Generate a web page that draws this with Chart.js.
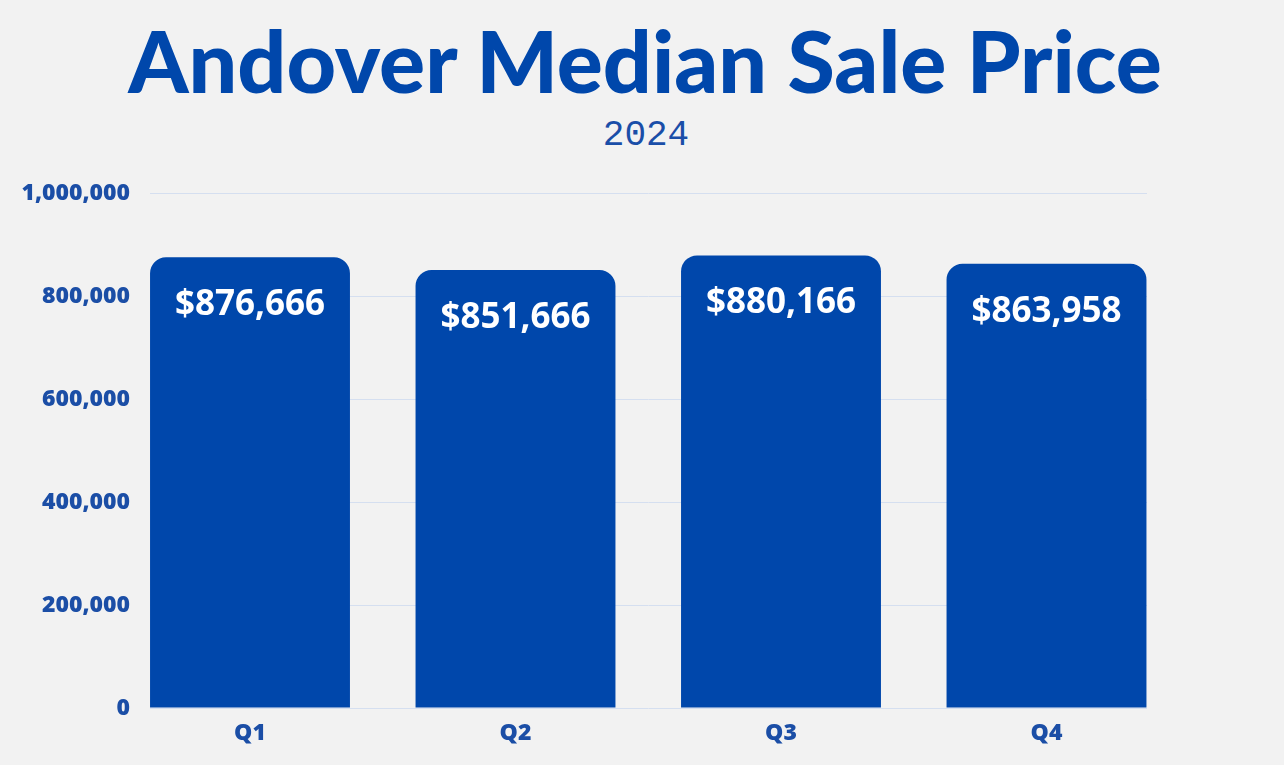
<!DOCTYPE html>
<html>
<head>
<meta charset="utf-8">
<script src="https://cdn.jsdelivr.net/npm/chart.js@4"></script>
<style>
  html, body { margin:0; padding:0; width:1284px; height:765px; background:#f2f2f2; overflow:hidden; }
  #title { position:absolute; left:0; width:1290px; top:5px; text-align:center; font-family:Lato, sans-serif; font-weight:900; font-size:86px; color:#0047ab; line-height:110px; letter-spacing:0px; white-space:nowrap; }
  #sub { position:absolute; left:0; width:1292px; top:114px; text-align:center; font-family:"Liberation Mono", monospace; font-size:36px; color:#1a4ea8; line-height:44px; }
  #wrap { position:absolute; left:0; top:160px; width:1284px; height:605px; }
</style>
</head>
<body>
<div id="title">Andover Median Sale Price</div>
<div id="sub">2024</div>
<div id="wrap"><canvas id="c" width="1284" height="605"></canvas></div>
<script>
const categories = ["Q1", "Q2", "Q3", "Q4"];
const values = [876666, 851666, 880166, 863958];
const yTicks = [0, 200000, 400000, 600000, 800000, 1000000];

const blue = "#0047ab";
const labelBlue = "#1b4ea6";

const valueLabels = {
  id: "valueLabels",
  afterDatasetsDraw(chart) {
    const ctx = chart.ctx;
    const meta = chart.getDatasetMeta(0);
    ctx.save();
    ctx.fillStyle = "#ffffff";
    ctx.font = "bold 35px 'Open Sans', sans-serif";
    ctx.textAlign = "center";
    ctx.textBaseline = "middle";
    meta.data.forEach((bar, i) => {
      ctx.fillText("$" + values[i].toLocaleString("en-US"), bar.x, bar.y + 48);
    });
    ctx.restore();
  }
};

new Chart(document.getElementById("c"), {
  type: "bar",
  data: {
    datasets: [{
      data: values.map((v, i) => ({ x: i, y: v })),
      backgroundColor: blue,
      borderWidth: 0,
      borderRadius: { topLeft: 16, topRight: 16, bottomLeft: 0, bottomRight: 0 },
      borderSkipped: false,
      categoryPercentage: 1,
      barPercentage: 0.753
    }]
  },
  options: {
    responsive: false,
    animation: false,
    layout: { padding: { left: 0, right: 137, top: 33, bottom: 0 } },
    plugins: { legend: { display: false }, tooltip: { enabled: false }, title: { display: false } },
    scales: {
      x: {
        type: "linear",
        offset: false,
        min: -100 / 265.5,
        max: 3 + 100.5 / 265.5,
        afterBuildTicks: (s) => { s.ticks = categories.map((_, i) => ({ value: i })); },
        afterFit: (s) => { s.height = 57; },
        grid: { display: false, drawTicks: false, offset: false },
        border: { display: false },
        ticks: {
          padding: 12,
          color: labelBlue,
          font: { family: "'Open Sans', sans-serif", weight: "800", size: 23 },
          callback: (v) => categories[v] ?? ""
        }
      },
      y: {
        min: 0,
        max: 1000000,
        afterBuildTicks: (s) => { s.ticks = yTicks.map(v => ({ value: v })); },
        afterFit: (s) => { s.width = 150; },
        grid: { color: "#d5dff0", lineWidth: 1, drawTicks: false },
        border: { display: false },
        ticks: {
          padding: 20,
          color: labelBlue,
          font: { family: "'Open Sans', sans-serif", weight: "800", size: 23 },
          callback: (v) => v.toLocaleString("en-US")
        }
      }
    }
  },
  plugins: [valueLabels]
});
</script>
</body>
</html>
